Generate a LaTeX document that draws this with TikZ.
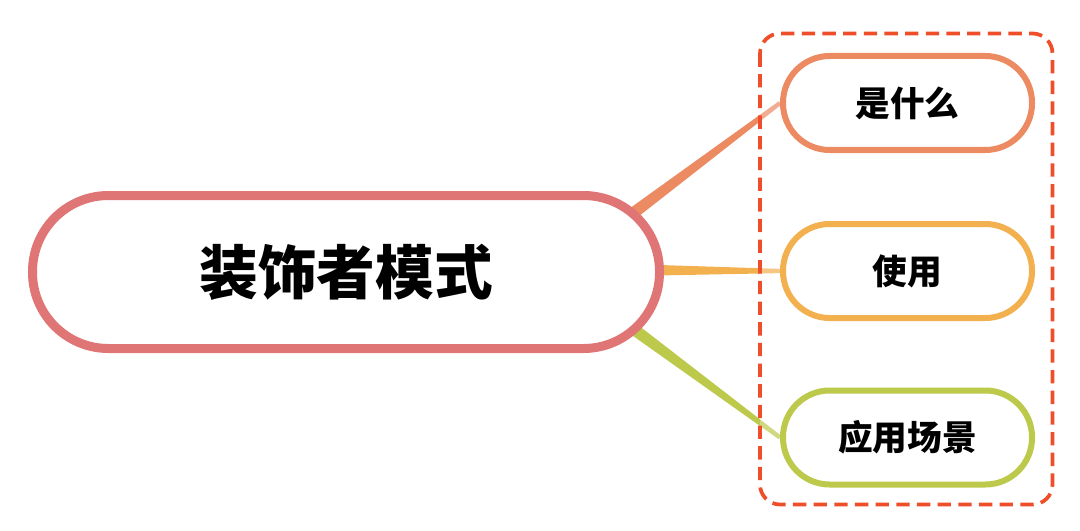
\documentclass[tikz,border=0pt]{standalone}
\usepackage{fontspec}
\newfontfamily\cjk{Noto Sans CJK SC}
\usetikzlibrary{calc}
\definecolor{cmain}{RGB}{224,117,117}
\definecolor{cone}{RGB}{236,138,98}
\definecolor{ctwo}{RGB}{243,176,79}
\definecolor{cthree}{RGB}{188,201,75}
\definecolor{cbox}{RGB}{238,79,42}
\tikzset{
  mainbox/.style={draw=cmain, line width=6.75pt, fill=white, rounded corners=57pt,
    minimum width=470.25pt, minimum height=114.75pt, inner sep=0pt,
    font=\cjk\bfseries\fontsize{44pt}{48pt}\selectfont},
  childbox/.style={draw=#1, line width=4.5pt, fill=white, rounded corners=35pt,
    minimum width=186.75pt, minimum height=70.5pt, inner sep=0pt,
    font=\cjk\bfseries\fontsize{26pt}{30pt}\selectfont},
  framebox/.style={draw=cbox, line width=2.8pt, dash pattern=on 10pt off 5.5pt,
    rounded corners=15pt},
  veil/.style={fill=white, fill opacity=0.3, rounded corners=15pt},
}
\newcommand{\taper}[3]{%
  \fill[#3] ($(#1)!4.6pt!90:(#2)$) -- ($(#2)!1.6pt!-90:(#1)$) --
    ($(#2)!1.6pt!90:(#1)$) -- ($(#1)!4.6pt!-90:(#2)$) -- cycle;}
\begin{document}
\begin{tikzpicture}[x=0.75pt,y=-0.75pt]
\useasboundingbox (0,0) rectangle (1080,531);
% node positions
\path (907.5,103) node[childbox=cone, fill=none, draw=none] (w1ph) {}
      (907.5,271) node[childbox=ctwo, fill=none, draw=none] (w2ph) {}
      (907.5,437.5) node[childbox=cthree, fill=none, draw=none] (w3ph) {};
\path (346,272) node[mainbox, fill=none, draw=none] (cph) {};
\coordinate (s1) at ($(cph.east)+(-40,-52)$);
\coordinate (s2) at ($(cph.east)+(-40,-2)$);
\coordinate (s3) at ($(cph.east)+(-40,50)$);
\coordinate (f1) at ($(w1ph.north west)+(-20,-19.5)$);
\coordinate (f2) at ($(w3ph.south east)+(17.5,17)$);
% connectors
\taper{s1}{w1ph.west}{cone}
\taper{s2}{w2ph.west}{ctwo}
\taper{s3}{w3ph.west}{cthree}
% central node
\node[mainbox] (c) at (cph) {装饰者模式};
% frame
\fill[veil] (f1) rectangle (f2);
\draw[framebox] (f1) rectangle (f2);
% children
\node[childbox=cone] (w1) at (w1ph) {是什么};
\node[childbox=ctwo] (w2) at (w2ph) {使用};
\node[childbox=cthree] (w3) at (w3ph) {应用场景};
\end{tikzpicture}
\end{document}
